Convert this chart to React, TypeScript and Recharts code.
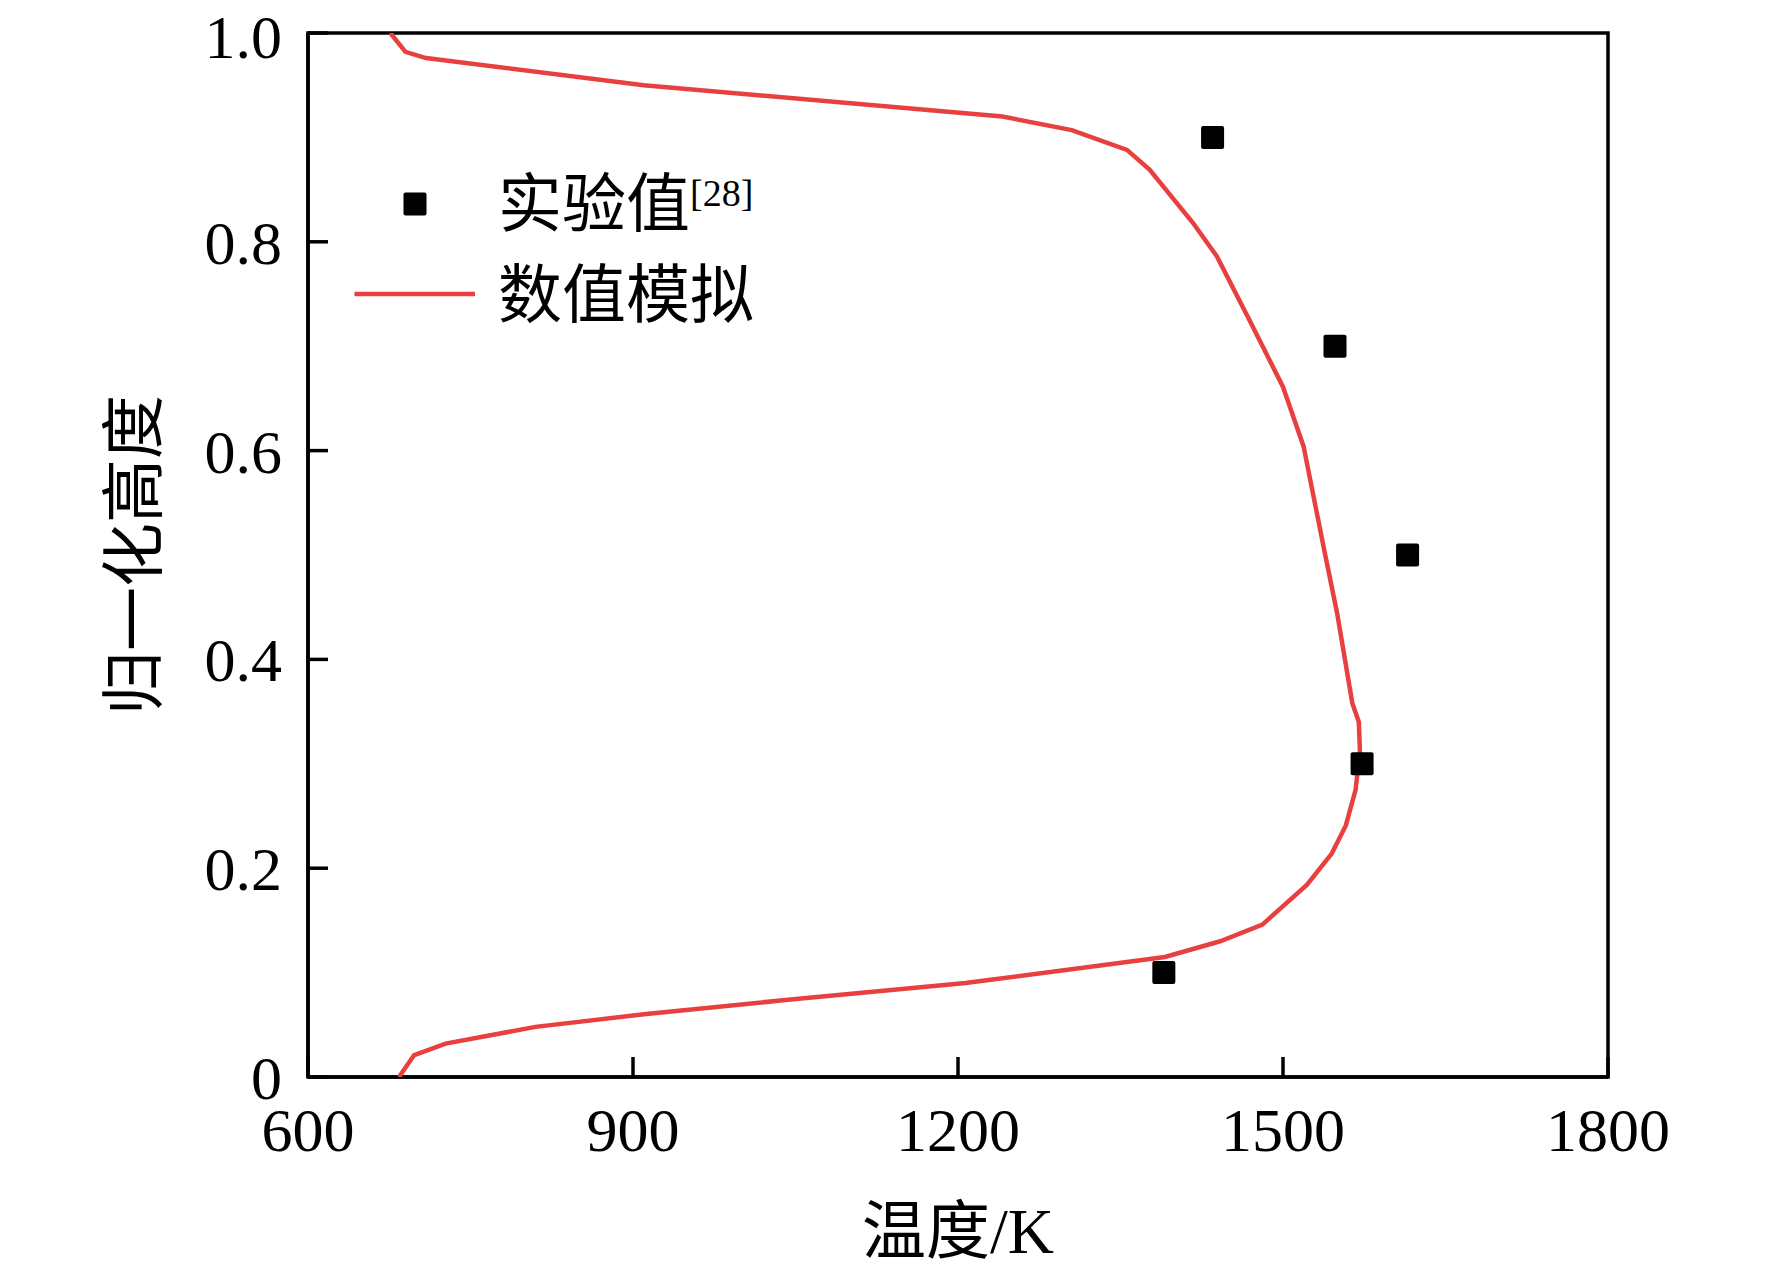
import { ScatterChart, Scatter, XAxis, YAxis, ReferenceArea, Legend } from 'recharts'

const tempTicks = [600, 900, 1200, 1500, 1800]
const heightTicks = [0, 0.2, 0.4, 0.6, 0.8, 1.0]

// 实验值[28]
const expTemp = [1390, 1573, 1615, 1548, 1435]
const expHeight = [0.1, 0.3, 0.5, 0.7, 0.9]

// 数值模拟, ordered from bottom to top (line is drawn in this order)
const simTemp = [684, 698, 727, 810, 910, 1043, 1207, 1391, 1442, 1481, 1522, 1545, 1558, 1567, 1571, 1570, 1564, 1550, 1538, 1519, 1500, 1469, 1439, 1417, 1377, 1356, 1305, 1241, 910, 709, 690, 676]
const simHeight = [0, 0.021, 0.032, 0.048, 0.06, 0.074, 0.09, 0.115, 0.13, 0.146, 0.184, 0.214, 0.241, 0.275, 0.313, 0.34, 0.358, 0.444, 0.505, 0.604, 0.661, 0.725, 0.786, 0.818, 0.869, 0.888, 0.907, 0.92, 0.95, 0.976, 0.982, 1.0]

const expData = expTemp.map((t, i) => ({ t, h: expHeight[i] }))
const simData = simTemp.map((t, i) => ({ t, h: simHeight[i] }))

const RED = '#e8403f'
const FONT = '"Liberation Serif", "Times New Roman", "Noto Sans CJK SC", serif'
const AXIS_W = 3.5

const SquareDot = (props: any) => (
  <rect x={props.cx - 11.5} y={props.cy - 11.5} width={23} height={23} rx={2} fill="#000" />
)

const NoDot = () => <g />

// legend drawn at the upper left inside the plot
const renderLegend = () => (
  <svg width={460} height={200} style={{ display: 'block', overflow: 'visible' }}>
    <rect x={63.5} y={32.5} width={23} height={23} rx={2} fill="#000" />
    <text x={158} y={66} fontSize={64} fontFamily={FONT} fill="#000">
      实验值
      <tspan fontSize={38} dy={-20}>[28]</tspan>
    </text>
    <line x1={14.5} x2={135} y1={134} y2={134} stroke={RED} strokeWidth={4.5} />
    <text x={158} y={157} fontSize={64} fontFamily={FONT} fill="#000">
      数值模拟
    </text>
  </svg>
)

const YTitle = (props: any) => {
  const vb = props.viewBox
  const cx = vb.x + 134
  const cy = vb.y + vb.height / 2
  return (
    <text
      x={cx}
      y={cy}
      transform={`rotate(-90, ${cx}, ${cy})`}
      textAnchor="middle"
      dominantBaseline="central"
      fontSize={64}
      fontFamily={FONT}
      fill="#000"
    >
      归一化高度
    </text>
  )
}

export default function App() {
  return (
    <div style={{ position: 'absolute', left: 0, top: 0, width: 1772, height: 1275, background: '#fff' }}>
      <ScatterChart width={1772} height={1275} margin={{ top: 33, right: 164, left: 0, bottom: 78 }}>
        <XAxis
          type="number"
          dataKey="t"
          domain={[600, 1800]}
          ticks={tempTicks}
          allowDataOverflow
          height={120}
          tickSize={-20}
          tickMargin={50}
          axisLine={{ stroke: '#000', strokeWidth: AXIS_W }}
          tickLine={{ stroke: '#000', strokeWidth: AXIS_W }}
          tick={{ fill: '#000', fontSize: 62, fontFamily: FONT }}
          label={{ value: '温度/K', position: 'bottom', offset: 11, fontSize: 64, fontFamily: FONT, fill: '#000' }}
        />
        <YAxis
          type="number"
          dataKey="h"
          domain={[0, 1]}
          ticks={heightTicks}
          allowDataOverflow
          width={308}
          tickSize={-20}
          tickMargin={46}
          tickFormatter={(v: number) => (v === 0 ? '0' : v.toFixed(1))}
          axisLine={{ stroke: '#000', strokeWidth: AXIS_W }}
          tickLine={{ stroke: '#000', strokeWidth: AXIS_W }}
          tick={{ fill: '#000', fontSize: 62, fontFamily: FONT }}
          label={<YTitle />}
        />
        <ReferenceArea x1={600} x2={1800} y1={0} y2={1} fill="none" stroke="#000" strokeWidth={AXIS_W} />
        <Scatter
          name="数值模拟"
          data={simData}
          line={{ stroke: RED, strokeWidth: 4.5 }}
          shape={NoDot}
          isAnimationActive={false}
        />
        <Scatter name="实验值" data={expData} shape={SquareDot} isAnimationActive={false} />
        <Legend
          layout="vertical"
          align="center"
          verticalAlign="middle"
          content={renderLegend}
          wrapperStyle={{ left: 340, top: 160, width: 460, height: 200 }}
        />
      </ScatterChart>
    </div>
  )
}
